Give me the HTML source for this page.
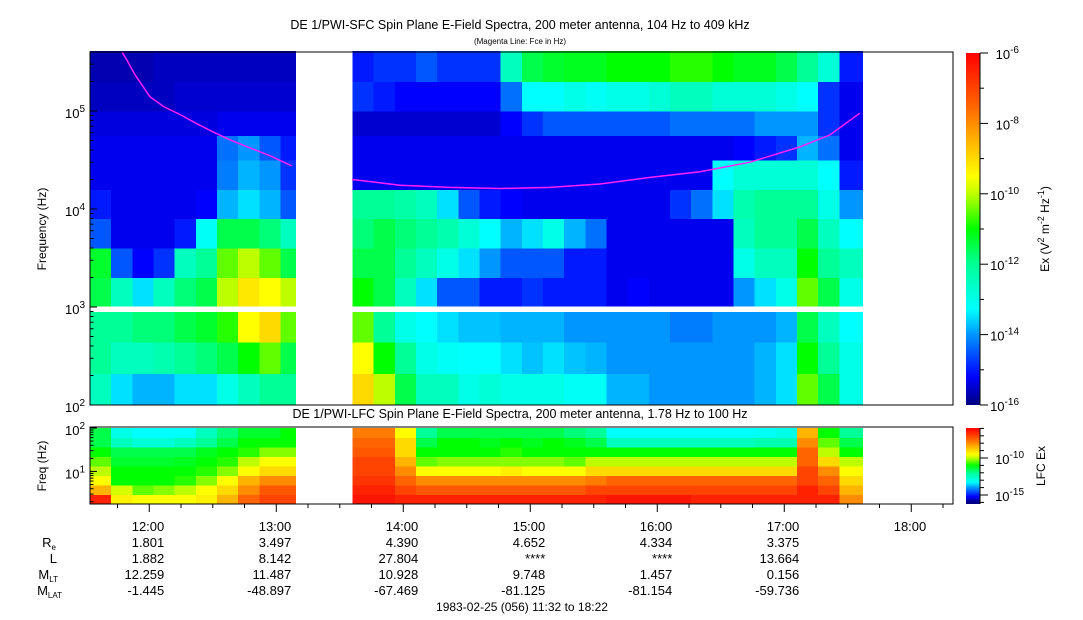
<!DOCTYPE html>
<html><head><meta charset="utf-8"><style>
body{margin:0;background:#fff;}
svg{display:block;font-family:"Liberation Sans",sans-serif;}
text{fill:#000;}
</style></head><body>
<svg id="chart" width="1083" height="620" viewBox="0 0 1083 620" xmlns="http://www.w3.org/2000/svg">
<rect width="1083" height="620" fill="#fff"/>
<text x="520" y="29" font-size="12.5" text-anchor="middle">DE 1/PWI-SFC  Spin Plane E-Field Spectra, 200 meter antenna, 104 Hz to 409 kHz</text>
<text x="520" y="44" font-size="8" text-anchor="middle">(Magenta Line: Fce in Hz)</text>
<text x="520" y="418" font-size="12.5" text-anchor="middle">DE 1/PWI-LFC  Spin Plane E-Field Spectra, 200 meter antenna, 1.78 Hz to 100 Hz</text>
<g id="sfc"></g>
<g id="lfc"></g>
<g id="axes"></g>
<text transform="translate(46,229) rotate(-90)" font-size="12" text-anchor="middle">Frequency (Hz)</text>
<text transform="translate(46,466) rotate(-90)" font-size="12" text-anchor="middle">Freq (Hz)</text>
<text transform="translate(1049,229) rotate(-90)" font-size="12" text-anchor="middle">Ex (V<tspan dy="-5" font-size="9">2</tspan><tspan dy="5"> m</tspan><tspan dy="-5" font-size="9">-2</tspan><tspan dy="5"> Hz</tspan><tspan dy="-5" font-size="9">-1</tspan><tspan dy="5">)</tspan></text>
<text transform="translate(1045,466) rotate(-90)" font-size="12" text-anchor="middle">LFC Ex</text>
<g id="ann"></g>
<text x="522" y="611" font-size="12" text-anchor="middle">1983-02-25 (056) 11:32 to 18:22</text>
</svg>
<script>
// ---- data ----
const seg1Starts=[692,702,712,722,732,742,752,762,772,782];
const seg1End=789;
const seg2Starts=[816,826,836,846,856,866,876,886,896,906,916,926,936,946,956,966,976,986,996,1006,1016,1026,1036,1046];
const seg2End=1057;
const sfcFreqEdges=[[2,2.32],[2.32,2.64],[2.64,2.95],[3.01,3.3],[3.3,3.6],[3.6,3.9],[3.9,4.2],[4.2,4.5],[4.5,4.75],[4.75,5.0],[5.0,5.3],[5.3,5.61]];
const sfcSeg1=[
[-12.5,-12,-12,-11.5,-11.3,-14.5,-15,-15.3,-15.3,-15.4,-15.6,-15.7],
[-13.5,-12.5,-12,-12.5,-14.5,-15.3,-15.3,-15.3,-15.3,-15.4,-15.6,-15.7],
[-13.8,-12.5,-11.8,-13.5,-15.2,-15.3,-15.3,-15.3,-15.3,-15.4,-15.6,-15.7],
[-13.8,-12.3,-11.8,-12.5,-14.8,-15.3,-15.3,-15.3,-15.3,-15.4,-15.6,-15.6],
[-13.5,-12,-11.5,-11.8,-12.5,-15,-15.3,-15.3,-15.3,-15.4,-15.5,-15.6],
[-13.5,-11.8,-11.3,-11.5,-12,-13.2,-15.2,-15.3,-15.3,-15.4,-15.5,-15.6],
[-13,-11.5,-10.8,-10,-10.5,-11.5,-13.8,-14.2,-14.3,-15.3,-15.5,-15.6],
[-12.5,-11,-9.5,-9.2,-10,-11.5,-13.5,-13.8,-14,-15.3,-15.5,-15.6],
[-12,-10.5,-9,-9.5,-10.5,-11.8,-13.8,-14,-14.5,-15.3,-15.5,-15.6],
[-12,-11.5,-10.5,-10,-11.5,-12.5,-14.5,-14.8,-15,-15.3,-15.5,-15.6]];
const sfcSeg2=[
[-9,-9.5,-10.5,-11,-11.5,-11.8,-12,-15.3,-15.3,-15.5,-14.8,-15],
[-10,-11,-12,-11.5,-11.5,-11.5,-12,-15.3,-15.3,-15.5,-15,-14.8],
[-11.5,-12,-13,-12.5,-12,-11.8,-12.2,-15.3,-15.3,-15.5,-15.2,-14.8],
[-12.5,-13,-13.3,-13.5,-12.5,-12,-12.5,-15.3,-15.3,-15.5,-15.2,-14.5],
[-12.5,-13.2,-13.5,-14.5,-13,-12.3,-13.5,-15.3,-15.3,-15.5,-15.2,-14.8],
[-13,-13.3,-13.7,-14.5,-13.5,-12.8,-14.5,-15.3,-15.3,-15.5,-15.2,-14.8],
[-12.8,-13.3,-13.7,-15,-14,-13.3,-15,-15.3,-15.3,-15.5,-15.2,-14.8],
[-13,-13.5,-13.8,-15,-14.5,-13.8,-15.2,-15.3,-15.3,-15.2,-14.3,-12.5],
[-13,-13.7,-13.8,-14.8,-14.5,-13.5,-15.3,-15.3,-15.3,-14.8,-13.3,-11.5],
[-13,-13.5,-13.8,-15,-14.5,-13,-15.3,-15.3,-15.3,-14.5,-13.3,-11.3],
[-13.2,-13.7,-14,-15,-15,-13.8,-15.3,-15.3,-15.3,-14.5,-13,-11.2],
[-13.2,-13.8,-14,-15,-15,-14.3,-15.3,-15.3,-15.3,-14.5,-13.2,-11.2],
[-13.8,-14,-14,-15.3,-15.3,-15.3,-15.3,-15.3,-15.3,-14.5,-13,-11],
[-13.8,-14,-14,-15.2,-15.3,-15.3,-15.3,-15.3,-15.3,-14.5,-13,-11],
[-14,-14,-14,-15.3,-15.3,-15.3,-15.3,-15.3,-15.3,-14.5,-12.8,-11],
[-14,-14,-14.2,-15.3,-15.3,-15.3,-14.8,-15.3,-15.3,-14.3,-12.5,-10.8],
[-14,-14,-14.2,-15.3,-15.3,-15.3,-14.3,-15.3,-15.3,-14.3,-12.5,-10.8],
[-14,-14,-14,-15.3,-15.3,-15.3,-13.5,-13.3,-15.3,-14.3,-12.8,-11],
[-14,-14,-14,-14,-13,-12.5,-12.3,-12.8,-15.2,-14.3,-12.8,-11.2],
[-13.8,-13.8,-14,-13.5,-12.5,-12,-12,-12.8,-15,-14,-12.8,-11.2],
[-13.5,-13.5,-13.8,-13,-12.5,-12,-12,-12.8,-14.8,-14,-13,-11.5],
[-10.5,-11,-11.5,-10.5,-11,-11.5,-12,-12.8,-13.8,-14,-13.3,-12],
[-11.5,-12,-12.5,-11.5,-12,-12.5,-13,-13.3,-14.3,-14.8,-14.8,-12.8],
[-13,-13,-13.3,-13,-12.5,-13.3,-14,-15,-15.3,-15.3,-15.3,-15]];
const lfcFreqEdges=[0.25,0.469,0.688,0.906,1.125,1.344,1.563,1.781,2.0];
const lfcSeg1=[
[-6.5,-8.5,-9.5,-10,-10.5,-11,-11.5,-11.5],
[-9.3,-9.8,-11,-11,-11.3,-11.5,-12.5,-13],
[-9.5,-10.5,-11,-11,-11.3,-11.5,-12.8,-13.3],
[-9.5,-10.3,-11,-11,-11.3,-11.5,-12.8,-13.3],
[-9.5,-10,-10.8,-11,-11.2,-11.5,-12.5,-13.3],
[-9.3,-9.5,-10.3,-10.8,-11,-11.2,-12,-12.5],
[-8.5,-9,-9.5,-10.3,-10.8,-11,-11.5,-11.8],
[-7.5,-8,-8.5,-9.5,-10,-10.8,-11,-11.3],
[-7,-7.3,-8,-9,-9.5,-10.3,-11,-11.3],
[-7,-7.3,-8,-9,-9.5,-10.3,-11,-11]];
const lfcSeg2=[
[-6.3,-6.5,-6.8,-7,-7,-7.3,-7.5,-7.8],
[-6.3,-6.5,-6.8,-7,-7,-7.3,-7.5,-7.8],
[-6.5,-7,-7.5,-8,-8.5,-9,-9,-9.5],
[-6.5,-7.3,-8,-9.5,-10.5,-11,-11.5,-12],
[-6.5,-7.3,-8,-9.5,-10.3,-11,-11,-11.5],
[-6.5,-7.3,-8,-9.5,-10.3,-11,-11,-11.5],
[-6.5,-7.3,-8,-9.5,-10.3,-11,-11.2,-11.5],
[-6.5,-7.3,-8,-9.3,-10.3,-10.8,-11,-11.5],
[-6.5,-7.3,-8,-9.5,-10.3,-11,-11.2,-11.5],
[-6.5,-7.3,-8,-9.5,-10.3,-11,-11,-11.5],
[-6.5,-7.3,-8,-9.5,-10.5,-11,-11.2,-11.8],
[-6.5,-7,-7.8,-9,-10,-11,-11.5,-12],
[-6.3,-7,-7.5,-9,-10,-11,-12.5,-13.3],
[-6.3,-7,-7.5,-9,-10,-11,-12.5,-13.3],
[-6.3,-7,-7.5,-9,-10,-11,-12.5,-13.3],
[-6.3,-7,-7.5,-9,-10,-11,-12.5,-13.3],
[-6.5,-7,-7.5,-9,-10,-11,-12.5,-13.3],
[-6.5,-7,-7.5,-9,-10,-11,-12.5,-13.3],
[-6.5,-7,-7.5,-9,-10,-11,-12.5,-13.3],
[-6.5,-7,-7.5,-9,-10,-11,-12.3,-13.2],
[-6.5,-7,-7.5,-9,-10,-11,-12.3,-13],
[-6.5,-6.5,-7,-7,-7.5,-7.5,-8,-8.5],
[-6.5,-7,-7.5,-8,-9,-10,-10.5,-11],
[-8,-8.5,-9,-9.5,-10,-11,-11.5,-12]];
const fceSeg1T=[707.1,709.5,713.2,720.3,727,734.5,742,749.6,757,765.2,777,787.4];
const fceSeg1Hz=[400000,330000,235000,140000,110000,92000,75000,62000,52000,44000,35000,27500];
const fceSeg2T=[815.8,838.5,862,885.7,909.3,933,956.6,980.2,1003.8,1027.4,1041.6,1055.7];
const fceSeg2Hz=[20000,17500,16600,16200,16600,18000,21000,24000,30000,43000,57000,95000];
const hourTicks=[720,780,840,900,960,1020,1080];
const hourLabels=["12:00","13:00","14:00","15:00","16:00","17:00","18:00"];
const rowNames=["Re","L","MLT","MLAT"];
const reVals=["1.801","3.497","4.390","4.652","4.334","3.375"];
const lVals=["1.882","8.142","27.804","****","****","13.664"];
const mltVals=["12.259","11.487","10.928","9.748","1.457","0.156"];
const mlatVals=["-1.445","-48.897","-67.469","-81.125","-81.154","-59.736"];

// ---- scales ----
const NS="http://www.w3.org/2000/svg";
const X0=90,X1=953,T0=692;
const xT=t=>X0+(t-T0)*127/60;
const yMain=lf=>405-(lf-2)*98;
const yLfc=lf=>504-(lf-0.25)*(76/1.75);
const yCb=v=>405-(v+16)*35.2;
const yCb2=v=>458-(v+10)*7.4;
const stops=[[-16,[0,0,128]],[-15.2,[0,0,255]],[-14,[0,150,255]],[-13.3,[0,255,255]],[-12,[0,255,150]],[-11,[0,255,0]],[-10,[190,255,0]],[-9.5,[255,255,0]],[-8.5,[255,180,0]],[-7.5,[255,100,0]],[-6,[255,0,0]]];
function cmap(v){
  if(v<=stops[0][0])return `rgb(${stops[0][1]})`;
  for(let i=1;i<stops.length;i++){
    if(v<=stops[i][0]){const a=stops[i-1],b=stops[i],f=(v-a[0])/(b[0]-a[0]);
      return `rgb(${a[1].map((c,k)=>Math.round(c+(b[1][k]-c)*f)).join(',')})`;}
  }
  return 'rgb(255,0,0)';
}
function mk(tag,attrs,parent){const e=document.createElementNS(NS,tag);for(const k in attrs)e.setAttribute(k,attrs[k]);parent.appendChild(e);return e;}

const sfc=document.getElementById('sfc');
function drawSeg(starts,end,vals,g,kind){
  starts.forEach((t,i)=>{
    const t2=i+1<starts.length?starts[i+1]:end;
    const xa=xT(t),xb=xT(t2);
    vals[i].forEach((v,j)=>{
      let ya,yb;
      if(kind==='sfc'){ya=yMain(sfcFreqEdges[j][1]);yb=yMain(sfcFreqEdges[j][0]);}
      else{ya=yLfc(lfcFreqEdges[j+1]);yb=yLfc(lfcFreqEdges[j]);}
      const r=mk('rect',{x:xa.toFixed(1),y:ya.toFixed(1),width:(xb-xa+0.6).toFixed(1),height:(yb-ya+0.4).toFixed(1),fill:cmap(v),'shape-rendering':'crispEdges'},g);
      
      
    });
  });
}
drawSeg(seg1Starts,seg1End,sfcSeg1,sfc,'sfc');
drawSeg(seg2Starts,seg2End,sfcSeg2,sfc,'sfc');
const lfc=document.getElementById('lfc');
drawSeg(seg1Starts,seg1End,lfcSeg1,lfc,'lfc');
drawSeg(seg2Starts,seg2End,lfcSeg2,lfc,'lfc');

function fceLine(ts,hz){
  const pts=ts.map((t,i)=>xT(t).toFixed(1)+','+yMain(Math.log10(hz[i])).toFixed(1)).join(' ');
  const p=mk('polyline',{points:pts,fill:'none',stroke:'#ff20ff','stroke-width':1.5},sfc);
  
  
}
fceLine(fceSeg1T,fceSeg1Hz);
fceLine(fceSeg2T,fceSeg2Hz);

// ---- axes ----
const ax=document.getElementById('axes');
const f1=mk('rect',{x:X0,y:52,width:X1-X0,height:353,fill:'none',stroke:'#000','stroke-width':1},ax);

const f2=mk('rect',{x:X0,y:427,width:X1-X0,height:77,fill:'none',stroke:'#000','stroke-width':1},ax);

function supLabel(x,y,base,exp,parent,name){
  const t=mk('text',{x:x,y:y,'font-size':13,'text-anchor':'end'},parent);
  
  t.innerHTML=`${base}<tspan dy="-6" font-size="10">${exp}</tspan>`;
}
for(let d=2;d<=5;d++){
  mk('line',{x1:X0,x2:X0+7,y1:yMain(d),y2:yMain(d),stroke:'#000'},ax);
  supLabel(85,yMain(d)+7,'10',d,ax,'y-tick-label');
  for(let m=2;m<=9;m++){const lf=d+Math.log10(m);if(lf>5.61)break;
    mk('line',{x1:X0,x2:X0+3.5,y1:yMain(lf),y2:yMain(lf),stroke:'#000'},ax);}
}
[1,2].forEach(d=>{
  mk('line',{x1:X0,x2:X0+7,y1:yLfc(d),y2:yLfc(d),stroke:'#000'},ax);
  supLabel(85,yLfc(d)+7,'10',d,ax,'lfc-y-tick-label');
});
for(let d=0;d<2;d++)for(let m=2;m<=9;m++){const lf=d+Math.log10(m);if(lf<0.25)continue;
  mk('line',{x1:X0,x2:X0+3.5,y1:yLfc(lf),y2:yLfc(lf),stroke:'#000'},ax);}
for(let t=705;t<=1102;t+=15){const x=xT(t);if(x>X1)break;const maj=(t%60===0);
  mk('line',{x1:x,x2:x,y1:504,y2:maj?512:508,stroke:'#000'},ax);}
// colorbars
const defs=mk('defs',{},ax);
const gr=mk('linearGradient',{id:'cbg',x1:0,y1:1,x2:0,y2:0},defs);
for(let v=-16;v<=-6;v+=0.25)mk('stop',{offset:((v+16)/10).toFixed(3),'stop-color':cmap(v)},gr);
const cb=mk('rect',{x:966,y:53,width:14,height:352,fill:'url(#cbg)'},ax);

for(let v=-16;v<=-6;v++){const y=yCb(v);mk('line',{x1:980,x2:v%2===0?988:984,y1:y,y2:y,stroke:'#000'},ax);
  if(v%2===0)supLabel(1019,y+6,'10',v,ax,'colorbar-tick-label');}
mk('line',{x1:980,x2:980,y1:53,y2:405,stroke:'#000'},ax);
const gr2=mk('linearGradient',{id:'cbg2',x1:0,y1:1,x2:0,y2:0},defs);
for(let v=-16.2;v<=-5.95;v+=0.25)mk('stop',{offset:((v+16.2)/10.25).toFixed(3),'stop-color':cmap(v)},gr2);
const cb2=mk('rect',{x:966,y:428,width:14,height:76,fill:'url(#cbg2)'},ax);

for(let v=-16;v<=-6;v++){const y=yCb2(v);mk('line',{x1:980,x2:(v===-10||v===-15)?988:984,y1:y,y2:y,stroke:'#000'},ax);}
supLabel(1024,yCb2(-10)+6,'10',-10,ax,'lfc-colorbar-tick-label');
supLabel(1024,yCb2(-15)+6,'10',-15,ax,'lfc-colorbar-tick-label');
mk('line',{x1:980,x2:980,y1:428,y2:504,stroke:'#000'},ax);

// ---- annotations ----
const ann=document.getElementById('ann');
hourTicks.forEach((t,i)=>{const e=mk('text',{x:xT(t)+15,y:531,'font-size':13,'text-anchor':'end'},ann);
  e.textContent=hourLabels[i];});
const rowsY=[547,563,579,595];
const rowVals=[reVals,lVals,mltVals,mlatVals];
const rowHtml=['R<tspan font-size="8" dy="3">e</tspan>','L','M<tspan font-size="8" dy="3">LT</tspan>','M<tspan font-size="8" dy="3">LAT</tspan>'];
rowNames.forEach((n,r)=>{
  const lab=mk('text',{x:n==='L'?57:(n==='Re'?56:n==='MLT'?58:62),y:rowsY[r],'font-size':13,'text-anchor':'end'},ann);
  
  lab.innerHTML=rowHtml[r];
  rowVals[r].forEach((v,i)=>{const e=mk('text',{x:xT(hourTicks[i])+15,y:rowsY[r],'font-size':13,'text-anchor':'end'},ann);
    e.textContent=v;});
});
</script>
</body></html>
